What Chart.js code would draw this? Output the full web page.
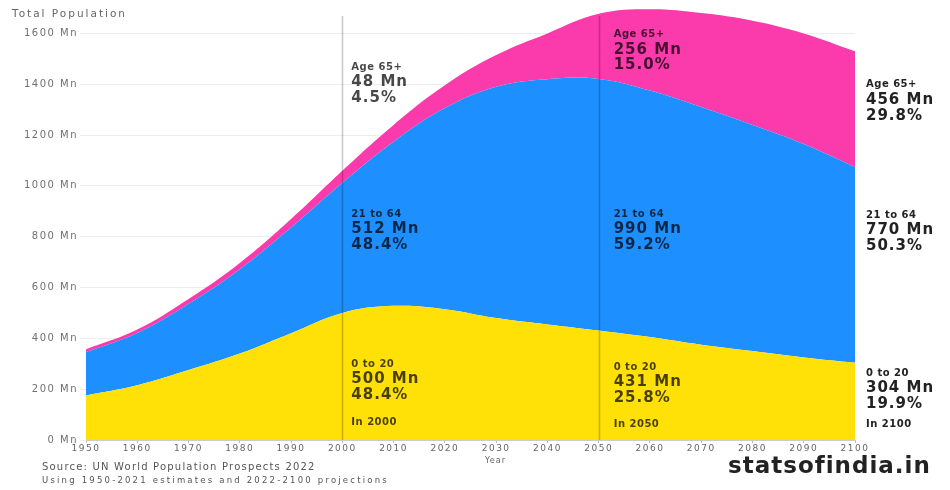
<!DOCTYPE html>
<html>
<head>
<meta charset="utf-8">
<script src="https://cdn.jsdelivr.net/npm/chart.js@4.4.1/dist/chart.umd.min.js"></script>
<style>
  html, body { margin: 0; padding: 0; background: #fff; }
  #wrap { width: 950px; height: 490px; }
</style>
</head>
<body>
<div id="wrap"><canvas id="popChart" width="950" height="490"></canvas></div>
<script>
// India population by age group, millions (UN WPP 2022)
const years      = [1950, 1960, 1970, 1980, 1990, 2000, 2010, 2020, 2030, 2040, 2050, 2060, 2070, 2080, 2090, 2100];
const age0to20   = [175, 215, 275, 340, 420, 500, 528, 515, 480, 455, 431, 405, 375, 350, 325, 304];
const age21to64  = [171, 206, 261, 332, 416, 512, 646, 791, 910, 965, 990, 970, 935, 890, 840, 770];
const age65plus  = [11, 14, 19, 25, 34, 48, 66, 90, 125, 180, 256, 320, 370, 410, 435, 456];

// snapshot years and the shares printed next to them
const snapYears  = [2000, 2050, 2100];
const pct0to20   = ['48.4%', '25.8%', '19.9%'];
const pct21to64  = ['48.4%', '59.2%', '50.3%'];
const pct65plus  = ['4.5%', '15.0%', '29.8%'];

const groupNames  = ['0 to 20', '21 to 64', 'Age 65+'];
const groupColors = ['#ffe108', '#1e8fff', '#fb3aac'];

// where each text block starts (in Mn on the y axis)
const labelAnchors = [
  { young: 299, mid: 889, old: 1468, foot: 70, dx: 9 },
  { young: 287, mid: 889, old: 1596, foot: 62, dx: 15 },
  { young: 264, mid: 885, old: 1398, foot: 62, dx: 11 }
];

const toPoints = arr => arr.map((v, i) => ({ x: years[i], y: v }));

const overlayText = {
  id: 'overlayText',
  beforeUpdate(chart) { chart.ctx.letterSpacing = '1.5px'; },
  beforeDraw(chart) { chart.ctx.letterSpacing = '1.5px'; },
  afterDatasetsDraw(chart) {
    const { ctx, chartArea, scales } = chart;
    ctx.save();
    ctx.strokeStyle = 'rgba(0,0,0,0.22)';
    ctx.lineWidth = 1.5;
    [2000, 2050].forEach(yr => {
      const px = Math.round(scales.x.getPixelForValue(yr)) + 0.5;
      ctx.beginPath();
      ctx.moveTo(px, chartArea.top + 8);
      ctx.lineTo(px, chartArea.bottom);
      ctx.stroke();
    });
    ctx.restore();
  },
  afterDraw(chart) {
    const { ctx, scales } = chart;
    ctx.save();
    ctx.textBaseline = 'middle';
    ctx.textAlign = 'left';

    // age group blocks
    snapYears.forEach((yr, i) => {
      const idx = years.indexOf(yr);
      const a = labelAnchors[i];
      const x = scales.x.getPixelForValue(yr) + a.dx;
      const onChart = yr < 2100;
      const ink = onChart ? 'rgba(0,0,0,0.72)' : '#222';
      const block = (yVal, name, val, pct) => {
        const y = scales.y.getPixelForValue(yVal);
        ctx.fillStyle = ink;
        ctx.font = 'bold 10px "DejaVu Sans"';
        ctx.letterSpacing = '0.5px';
        ctx.fillText(name, x, y);
        ctx.font = 'bold 15px "DejaVu Sans"';
        ctx.letterSpacing = '1px';
        ctx.fillText(val + ' Mn', x, y + 15.5);
        ctx.fillText(pct, x, y + 31);
      };
      block(a.old, groupNames[2], age65plus[idx], pct65plus[i]);
      block(a.mid, groupNames[1], age21to64[idx], pct21to64[i]);
      block(a.young, groupNames[0], age0to20[idx], pct0to20[i]);
      ctx.font = 'bold 10px "DejaVu Sans"';
      ctx.letterSpacing = '0.5px';
      ctx.fillStyle = ink;
      ctx.fillText('In ' + yr, x, scales.y.getPixelForValue(a.foot));
    });

    // axis captions
    ctx.fillStyle = '#666';
    ctx.letterSpacing = '2px';
    ctx.font = '10.5px "DejaVu Sans"';
    ctx.fillText('Total Population', 12, 14);
    ctx.font = '8px "DejaVu Sans"';
    ctx.letterSpacing = '1px';
    ctx.fillText('Year', 485, 461);

    // source notes
    ctx.fillStyle = '#555';
    ctx.font = '10px "DejaVu Sans"';
    ctx.letterSpacing = '1.2px';
    ctx.fillText('Source: UN World Population Prospects 2022', 42, 467);
    ctx.font = '8.5px "DejaVu Sans"';
    ctx.letterSpacing = '2.2px';
    ctx.fillText('Using 1950-2021 estimates and 2022-2100 projections', 42, 481);

    // site mark
    ctx.fillStyle = '#222';
    ctx.font = 'bold 23px "DejaVu Sans"';
    ctx.letterSpacing = '1px';
    ctx.fillText('statsofindia.in', 728, 467);
    ctx.restore();
  }
};

const areaDataset = (label, values, color, fill) => ({
  label,
  data: toPoints(values),
  backgroundColor: color,
  borderColor: color,
  borderWidth: 0,
  pointRadius: 0,
  fill,
  tension: 0.4
});

new Chart(document.getElementById('popChart'), {
  type: 'line',
  data: {
    datasets: [
      areaDataset(groupNames[0], age0to20, groupColors[0], 'origin'),
      areaDataset(groupNames[1], age21to64, groupColors[1], '-1'),
      areaDataset(groupNames[2], age65plus, groupColors[2], '-1')
    ]
  },
  options: {
    responsive: false,
    animation: false,
    layout: { padding: { top: 2, right: 95, left: 0, bottom: 0 } },
    plugins: {
      legend: { display: false },
      tooltip: { enabled: false }
    },
    scales: {
      x: {
        type: 'linear',
        min: 1950,
        max: 2100,
        afterFit: s => { s.height = 50; },
        ticks: {
          stepSize: 10,
          padding: 0,
          color: '#666',
          font: { family: 'DejaVu Sans', size: 9 },
          maxRotation: 0,
          callback: v => String(v)
        },
        grid: { display: true, drawOnChartArea: false, tickLength: 3, color: '#bbb' },
        border: { display: true, color: '#ccc' }
      },
      y: {
        stacked: true,
        min: 0,
        max: 1700,
        afterFit: s => { s.width = 86; },
        ticks: {
          stepSize: 200,
          includeBounds: false,
          padding: 2,
          color: '#707070',
          font: { family: 'DejaVu Sans', size: 10 },
          callback: v => v + ' Mn'
        },
        grid: { color: '#ededed', tickLength: 6 },
        border: { display: false }
      }
    }
  },
  plugins: [overlayText]
});
</script>
</body>
</html>
